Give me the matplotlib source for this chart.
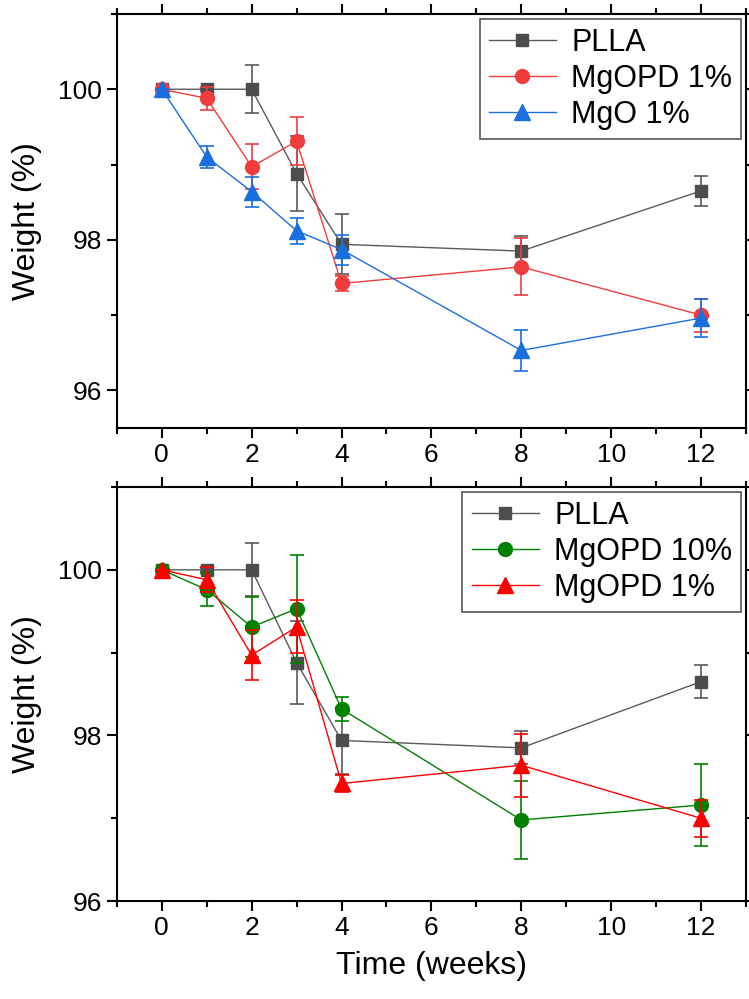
import matplotlib
matplotlib.use("Agg")
import matplotlib.pyplot as plt
from matplotlib.ticker import MultipleLocator

plt.rcParams['font.family'] = ['Liberation Sans', 'DejaVu Sans']

# Data (weeks, weight %)
weeks = [0, 1, 2, 3, 4, 8, 12]

plla = [100.0, 100.0, 100.0, 98.88, 97.94, 97.85, 98.65]
plla_err = [0.0, 0.02, 0.32, 0.5, 0.4, 0.2, 0.2]

mgopd1 = [100.0, 99.88, 98.97, 99.31, 97.42, 97.64, 97.0]
mgopd1_err = [0.0, 0.15, 0.3, 0.32, 0.1, 0.38, 0.22]

mgo1 = [100.0, 99.10, 98.64, 98.12, 97.87, 96.53, 96.96]
mgo1_err = [0.0, 0.15, 0.2, 0.17, 0.2, 0.27, 0.25]

mgopd10 = [100.0, 99.76, 99.31, 99.53, 98.32, 96.98, 97.16]
mgopd10_err = [0.0, 0.2, 0.36, 0.65, 0.15, 0.47, 0.5]

x_ticks = [0, 2, 4, 6, 8, 10, 12]
y_ticks = [96, 98, 100]


def style_axes(ax, ylim):
    ax.set_xlim(-1, 13)
    ax.set_ylim(*ylim)
    ax.set_xticks(x_ticks)
    ax.set_yticks(y_ticks)
    ax.xaxis.set_minor_locator(MultipleLocator(1))
    ax.yaxis.set_minor_locator(MultipleLocator(1))
    ax.tick_params(which='both', direction='out', top=True, right=True,
                   width=1.5, labelsize=19)
    ax.tick_params(which='major', length=7)
    ax.tick_params(which='minor', length=4)
    for s in ax.spines.values():
        s.set_linewidth(1.5)
    ax.set_ylabel('Weight (%)', fontsize=23, labelpad=12)


def series(ax, y, err, color, lcolor, marker, ms, label):
    # error bars drawn separately so the legend shows only line + marker
    ax.errorbar(weeks, y, yerr=err, fmt='none', ecolor=lcolor,
                elinewidth=1.2, capsize=5, capthick=1.2)
    ax.plot(weeks, y, color=lcolor, marker=marker, ms=ms,
            mfc=color, mec=color, lw=1.0, label=label)


fig = plt.figure(figsize=(7.49, 9.99), dpi=100)
ax1 = fig.add_axes([0.156, 0.5716, 0.84, 0.4144])
ax2 = fig.add_axes([0.156, 0.098, 0.84, 0.4145])

series(ax1, plla, plla_err, '#4d4d4d', '#5a5a5a', 's', 9, 'PLLA')
series(ax1, mgopd1, mgopd1_err, '#f03c3c', '#f03c3c', 'o', 10, 'MgOPD 1%')
series(ax1, mgo1, mgo1_err, '#1a6fdf', '#1a6fdf', '^', 11, 'MgO 1%')
style_axes(ax1, (95.5, 101))

series(ax2, plla, plla_err, '#4d4d4d', '#5a5a5a', 's', 9, 'PLLA')
series(ax2, mgopd10, mgopd10_err, '#008000', '#008000', 'o', 10, 'MgOPD 10%')
series(ax2, mgopd1, mgopd1_err, '#ff0000', '#ff0000', '^', 11, 'MgOPD 1%')
style_axes(ax2, (96, 101))
ax2.set_xlabel('Time (weeks)', fontsize=23, labelpad=8)

for ax in (ax1, ax2):
    leg = ax.legend(loc='upper right', fontsize=22, frameon=True, fancybox=False,
                    edgecolor='#555555', framealpha=1, handlelength=2.2,
                    borderaxespad=0.15, labelspacing=0.2, handletextpad=0.5,
                    borderpad=0.3)
    leg.get_frame().set_linewidth(1.2)

fig.savefig('out.png', dpi=100)
